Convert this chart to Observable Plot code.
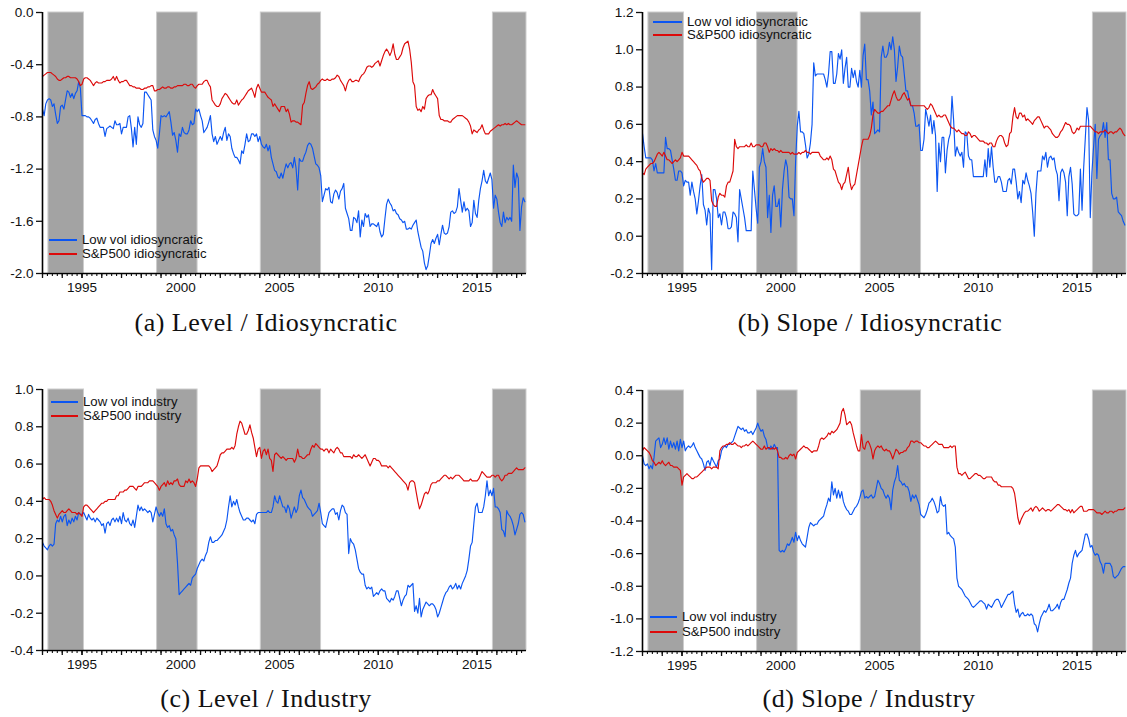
<!DOCTYPE html>
<html><head><meta charset="utf-8">
<script src="https://cdn.jsdelivr.net/npm/d3@7"></script>
<script src="https://cdn.jsdelivr.net/npm/@observablehq/plot@0.6"></script>
<style>
html,body{margin:0;padding:0;background:#fff}
body{width:1127px;height:717px;position:relative;overflow:hidden;font-family:"Liberation Sans",Arial,sans-serif}
.panel{position:absolute}
.cap{position:absolute;font-family:"Liberation Serif","Times New Roman",serif;font-size:26px;letter-spacing:0.5px;white-space:nowrap;transform:translate(-50%,-50%);color:#111}
.leg{position:absolute;font-size:13.2px;line-height:12px;color:#111;white-space:nowrap}
.leg .sw{position:absolute;height:1.6px}
.leg .tx{position:absolute;transform:translateY(-50%);line-height:12px}
</style></head><body>
<script>
// ---------- data (monthly, starting January 1993) ----------
const startYear = 1993;
const shadeBands = [[1993.3, 1995.1], [1998.8, 2000.85], [2004.05, 2007.1], [2015.8, 2017.5]];
const xLabelYears = [1995, 2000, 2005, 2010, 2015];

const lowVolIdioLevel = [
-0.74,-0.79,-0.70,-0.67,-0.66,-0.67,-0.72,-0.70,-0.78,-0.85,
-0.83,-0.72,-0.71,-0.74,-0.67,-0.60,-0.61,-0.65,-0.62,-0.66,
-0.62,-0.60,-0.53,-0.58,-0.79,-0.79,-0.79,-0.80,-0.80,-0.81,
-0.83,-0.85,-0.82,-0.81,-0.85,-0.88,-0.88,-0.88,-0.95,-0.89,
-0.88,-0.87,-0.88,-0.89,-0.83,-0.86,-0.86,-0.85,-0.93,-0.88,
-0.88,-0.88,-0.80,-0.79,-0.89,-1.03,-0.88,-1.01,-0.80,-0.86,
-0.88,-0.85,-0.61,-0.61,-0.63,-0.65,-0.67,-0.90,-0.95,-0.98,
-1.04,-0.93,-0.79,-0.80,-0.79,-0.80,-0.78,-0.76,-0.84,-0.94,
-0.92,-0.98,-1.07,-0.93,-0.95,-0.88,-0.92,-0.93,-0.93,-0.90,
-0.83,-0.86,-0.85,-0.74,-0.76,-0.74,-0.79,-0.83,-0.92,-0.90,
-0.88,-0.84,-0.79,-0.93,-0.99,-0.95,-1.01,-0.98,-0.95,-0.98,
-0.92,-0.88,-0.98,-0.93,-0.95,-1.04,-1.08,-1.11,-1.11,-1.13,
-1.16,-1.06,-1.08,-1.01,-0.93,-0.99,-0.98,-0.93,-0.93,-0.95,
-0.93,-0.99,-0.95,-1.01,-1.03,-1.04,-1.01,-1.06,-1.02,-1.11,
-1.16,-1.21,-1.22,-1.26,-1.27,-1.23,-1.27,-1.21,-1.16,
-1.19,-1.16,-1.15,-1.19,-1.11,-1.19,-1.36,-1.12,-1.14,-1.14,-1.10,
-1.07,-1.02,-1.00,-1.01,-1.04,-1.10,-1.16,-1.17,-1.19,-1.25,
-1.45,-1.40,-1.35,-1.36,-1.34,-1.45,-1.46,-1.39,-1.36,-1.38,
-1.43,-1.37,-1.35,-1.31,-1.50,-1.54,-1.58,-1.67,-1.67,-1.57,
-1.58,-1.61,-1.52,-1.72,-1.59,-1.64,-1.54,-1.57,-1.55,-1.64,
-1.62,-1.62,-1.63,-1.64,-1.61,-1.68,-1.72,-1.70,-1.58,-1.47,
-1.43,-1.46,-1.48,-1.52,-1.51,-1.54,-1.55,-1.58,-1.59,-1.61,
-1.60,-1.66,-1.66,-1.65,-1.66,-1.63,-1.61,-1.59,-1.68,-1.74,
-1.80,-1.83,-1.92,-1.97,-1.94,-1.86,-1.77,-1.74,-1.77,-1.73,
-1.70,-1.78,-1.70,-1.63,-1.69,-1.70,-1.69,-1.64,-1.53,-1.52,
-1.54,-1.53,-1.49,-1.35,-1.44,-1.53,-1.45,-1.52,-1.50,-1.52,
-1.64,-1.61,-1.44,-1.54,-1.57,-1.44,-1.35,-1.29,-1.21,-1.29,
-1.31,-1.27,-1.23,-1.28,-1.50,-1.40,-1.43,-1.53,-1.61,-1.64,
-1.53,-1.61,-1.57,-1.59,-1.57,-1.60,-1.17,-1.34,-1.23,-1.27,
-1.67,-1.49,-1.42,-1.45];

const sp500IdioLevel = [
-0.49,-0.48,-0.47,-0.46,-0.46,-0.46,-0.47,-0.48,-0.49,-0.51,
-0.52,-0.52,-0.51,-0.50,-0.50,-0.49,-0.49,-0.50,-0.50,-0.50,
-0.50,-0.51,-0.53,-0.56,-0.55,-0.51,-0.50,-0.50,-0.51,-0.52,
-0.54,-0.56,-0.54,-0.53,-0.54,-0.54,-0.54,-0.53,-0.53,-0.52,
-0.52,-0.52,-0.51,-0.49,-0.52,-0.49,-0.52,-0.54,-0.53,-0.53,
-0.52,-0.52,-0.54,-0.56,-0.56,-0.57,-0.57,-0.58,-0.58,-0.58,
-0.59,-0.59,-0.58,-0.58,-0.57,-0.57,-0.56,-0.56,-0.60,-0.60,
-0.59,-0.59,-0.58,-0.57,-0.58,-0.58,-0.57,-0.57,-0.58,-0.58,
-0.57,-0.57,-0.56,-0.56,-0.56,-0.56,-0.55,-0.55,-0.56,-0.56,
-0.55,-0.55,-0.57,-0.58,-0.56,-0.55,-0.55,-0.55,-0.53,-0.52,
-0.52,-0.55,-0.57,-0.67,-0.69,-0.71,-0.72,-0.72,-0.70,-0.66,
-0.64,-0.62,-0.63,-0.65,-0.67,-0.69,-0.70,-0.70,-0.67,-0.71,
-0.69,-0.67,-0.66,-0.64,-0.62,-0.60,-0.59,-0.58,-0.61,-0.65,
-0.58,-0.55,-0.58,-0.61,-0.61,-0.61,-0.63,-0.65,-0.66,-0.67,
-0.72,-0.70,-0.72,-0.74,-0.76,-0.72,-0.72,-0.72,-0.76,
-0.74,-0.78,-0.84,-0.83,-0.83,-0.84,-0.84,-0.85,-0.86,-0.71,-0.69,
-0.62,-0.56,-0.53,-0.58,-0.59,-0.58,-0.57,-0.55,-0.54,-0.52,
-0.51,-0.52,-0.52,-0.51,-0.52,-0.52,-0.51,-0.51,-0.50,-0.48,
-0.49,-0.52,-0.54,-0.56,-0.60,-0.55,-0.52,-0.51,-0.53,-0.53,
-0.52,-0.52,-0.53,-0.50,-0.48,-0.47,-0.45,-0.42,-0.41,-0.41,
-0.42,-0.41,-0.39,-0.38,-0.37,-0.41,-0.37,-0.33,-0.30,-0.28,
-0.30,-0.33,-0.30,-0.24,-0.32,-0.36,-0.36,-0.34,-0.32,-0.27,
-0.24,-0.23,-0.22,-0.28,-0.38,-0.53,-0.56,-0.72,-0.75,-0.74,
-0.76,-0.72,-0.74,-0.66,-0.64,-0.63,-0.63,-0.59,-0.62,-0.64,
-0.66,-0.79,-0.82,-0.82,-0.83,-0.83,-0.83,-0.84,-0.84,-0.82,
-0.81,-0.80,-0.79,-0.79,-0.79,-0.79,-0.80,-0.81,-0.82,-0.84,
-0.87,-0.93,-0.90,-0.91,-0.92,-0.90,-0.89,-0.86,-0.90,-0.93,
-0.93,-0.93,-0.91,-0.90,-0.89,-0.88,-0.87,-0.86,-0.87,-0.86,
-0.86,-0.85,-0.86,-0.85,-0.86,-0.86,-0.85,-0.84,-0.83,-0.84,
-0.85,-0.86,-0.86,-0.86];

const lowVolIdioSlope = [
0.55,0.48,0.42,0.42,0.42,0.42,0.41,0.35,0.39,0.34,
0.34,0.34,0.34,0.34,0.53,0.47,0.47,0.46,0.41,0.36,
0.30,0.30,0.35,0.35,0.34,0.27,0.30,0.29,0.29,0.22,
0.29,0.24,0.20,0.12,0.19,0.27,0.33,0.17,0.14,0.06,
0.15,0.12,-0.18,0.25,0.25,0.20,0.10,0.12,0.06,0.13,
0.13,0.10,0.04,0.04,0.05,0.13,0.12,0.10,-0.03,0.25,
0.20,0.15,0.10,0.03,0.03,0.03,0.03,0.35,0.25,0.15,
0.07,0.37,0.40,0.47,0.40,0.37,0.10,0.22,0.02,0.22,
0.27,0.16,0.16,0.20,0.05,0.25,0.35,0.41,0.37,0.21,
0.20,0.20,0.11,0.40,0.59,0.67,0.56,0.56,0.55,0.49,
0.42,0.44,0.50,0.60,0.93,0.86,0.87,0.87,0.87,0.87,
0.87,0.84,0.80,0.87,0.99,0.99,0.82,0.82,0.87,0.98,
0.95,1.00,0.82,0.90,0.96,0.80,0.80,0.90,0.85,0.89,
0.83,0.80,0.89,0.80,0.97,1.03,0.84,0.84,0.78,0.65,
0.72,0.55,0.56,0.57,
0.56,0.96,1.02,0.96,0.96,0.98,
1.04,1.00,1.07,1.00,0.83,0.91,1.02,0.97,0.96,0.87,
0.78,0.78,0.73,0.70,0.70,0.66,0.59,0.59,0.60,0.46,
0.46,0.52,0.68,0.64,0.59,0.65,0.55,0.62,0.54,0.24,
0.50,0.40,0.53,0.53,0.34,0.46,0.52,0.55,0.75,0.62,
0.43,0.48,0.45,0.43,0.45,0.37,0.56,0.55,0.43,0.41,
0.41,0.32,0.32,0.32,0.32,0.32,0.32,0.32,0.41,0.32,
0.47,0.37,0.48,0.37,0.29,0.29,0.32,0.32,0.29,0.24,
0.24,0.24,0.30,0.31,0.28,0.36,0.36,0.29,0.20,0.24,
0.18,0.30,0.28,0.34,0.30,0.27,0.23,0.13,0.00,0.23,
0.35,0.35,0.35,0.43,0.41,0.45,0.37,0.42,0.43,0.41,
0.42,0.36,0.33,0.19,0.34,0.36,0.34,0.29,0.11,0.32,
0.37,0.28,0.12,0.11,0.11,0.12,0.36,0.14,0.37,0.53,
0.69,0.62,0.10,0.34,0.48,0.60,0.31,0.52,0.54,0.55,
0.61,0.53,0.61,0.41,0.41,0.23,0.20,0.20,0.21,0.13,
0.12,0.11,0.08,0.06];

const sp500IdioSlope = [
0.34,0.33,0.36,0.37,0.38,0.39,0.39,0.40,0.42,0.44,
0.45,0.44,0.43,0.45,0.43,0.41,0.41,0.40,0.39,0.40,
0.41,0.40,0.41,0.42,0.45,0.43,0.43,0.43,0.43,0.42,
0.41,0.40,0.39,0.38,0.36,0.35,0.31,0.29,0.30,0.31,
0.31,0.30,0.19,0.17,0.16,0.16,0.21,0.23,0.22,0.22,
0.21,0.27,0.29,0.29,0.32,0.35,0.52,0.48,0.47,0.48,
0.48,0.48,0.48,0.49,0.48,0.48,0.50,0.48,0.48,0.49,
0.49,0.49,0.48,0.48,0.50,0.50,0.48,0.45,0.47,0.46,
0.47,0.46,0.46,0.45,0.46,0.45,0.45,0.45,0.45,0.45,
0.44,0.45,0.44,0.44,0.44,0.45,0.44,0.45,0.45,0.46,
0.45,0.45,0.44,0.45,0.45,0.45,0.45,0.45,0.43,0.42,
0.41,0.41,0.42,0.41,0.43,0.41,0.36,0.35,0.32,0.29,
0.28,0.25,0.28,0.29,0.33,0.37,0.29,0.25,0.27,0.28,
0.33,0.38,0.43,0.48,0.52,0.52,0.52,0.52,0.54,0.58,
0.65,0.68,0.67,0.66,
0.66,0.67,0.67,0.68,0.69,0.70,
0.70,0.73,0.76,0.78,0.75,0.73,0.73,0.74,0.76,0.77,
0.75,0.73,0.74,0.70,0.70,0.70,0.70,0.70,0.70,0.70,
0.70,0.70,0.69,0.68,0.69,0.71,0.70,0.68,0.66,0.64,
0.65,0.64,0.64,0.65,0.65,0.63,0.61,0.59,0.58,0.58,
0.57,0.56,0.57,0.56,0.55,0.55,0.54,0.54,0.56,0.55,
0.53,0.54,0.54,0.53,0.52,0.51,0.51,0.51,0.50,0.50,
0.49,0.50,0.50,0.48,0.48,0.51,0.53,0.54,0.54,0.53,
0.50,0.48,0.49,0.55,0.56,0.64,0.69,0.64,0.63,0.66,
0.66,0.64,0.65,0.62,0.63,0.62,0.61,0.60,0.62,0.63,
0.64,0.64,0.62,0.60,0.58,0.59,0.59,0.58,0.57,0.55,
0.54,0.53,0.53,0.54,0.56,0.57,0.59,0.61,0.60,0.60,
0.59,0.56,0.55,0.56,0.58,0.57,0.59,0.59,0.59,0.59,
0.59,0.59,0.59,0.58,0.57,0.56,0.56,0.55,0.56,0.56,
0.56,0.57,0.56,0.55,0.56,0.56,0.55,0.56,0.56,0.57,
0.58,0.57,0.55,0.54];

const lowVolIndLevel = [
0.18,0.16,0.15,0.14,0.16,0.17,0.16,0.17,0.28,0.30,
0.29,0.32,0.29,0.32,0.33,0.27,0.30,0.28,0.31,0.29,
0.32,0.30,0.34,0.33,0.33,0.34,0.32,0.30,0.33,0.31,
0.30,0.31,0.29,0.31,0.30,0.29,0.27,0.28,0.23,0.28,
0.29,0.27,0.30,0.31,0.29,0.31,0.29,0.32,0.28,0.34,
0.30,0.29,0.31,0.28,0.27,0.30,0.26,0.32,0.38,0.35,
0.37,0.35,0.36,0.35,0.34,0.35,0.34,0.29,0.33,0.37,
0.34,0.32,0.34,0.32,0.36,0.28,0.26,0.27,0.24,0.25,
0.22,0.20,0.07,-0.10,-0.09,-0.08,-0.07,-0.06,-0.05,-0.04,
-0.05,-0.01,0.00,0.01,0.04,0.06,0.08,0.09,0.08,0.11,
0.13,0.18,0.21,0.18,0.18,0.19,0.19,0.20,0.21,0.22,
0.24,0.26,0.30,0.37,0.43,0.37,0.40,0.38,0.41,0.37,
0.34,0.32,0.30,0.30,0.31,0.31,0.30,0.29,0.30,0.28,
0.33,0.34,0.34,0.34,0.34,0.34,0.34,0.35,0.34,0.34,
0.37,0.43,0.40,0.39,0.43,0.40,0.37,0.37,0.34,
0.38,0.36,0.31,0.34,0.37,0.34,0.36,0.43,0.46,0.42,0.41,
0.39,0.37,0.36,0.35,0.32,0.33,0.34,0.35,0.39,0.34,
0.28,0.27,0.26,0.30,0.34,0.35,0.36,0.36,0.33,0.34,
0.30,0.35,0.38,0.37,0.34,0.33,0.12,0.20,0.18,0.17,
0.14,0.09,0.04,0.02,0.01,0.01,-0.05,-0.07,-0.06,-0.07,
-0.06,-0.11,-0.10,-0.09,-0.10,-0.08,-0.07,-0.08,-0.08,-0.12,
-0.13,-0.14,-0.12,-0.13,-0.11,-0.08,-0.08,-0.12,-0.16,-0.13,
-0.11,-0.10,-0.05,-0.06,-0.05,-0.04,-0.19,-0.16,-0.20,-0.12,
-0.22,-0.18,-0.16,-0.14,-0.15,-0.16,-0.15,-0.15,-0.16,-0.18,
-0.22,-0.20,-0.17,-0.14,-0.11,-0.09,-0.08,-0.06,-0.05,-0.07,
-0.06,-0.04,-0.07,-0.05,-0.07,-0.04,-0.02,0.00,0.03,0.09,
0.16,0.18,0.28,0.37,0.39,0.34,0.34,0.34,0.37,0.43,
0.51,0.43,0.46,0.43,0.47,0.37,0.37,0.36,0.34,0.25,
0.24,0.21,0.35,0.33,0.32,0.30,0.27,0.22,0.25,0.28,
0.33,0.34,0.33,0.29];

const sp500IndLevel = [
0.41,0.42,0.41,0.41,0.41,0.40,0.38,0.35,0.33,0.31,
0.33,0.34,0.35,0.34,0.34,0.35,0.36,0.35,0.34,0.34,
0.34,0.33,0.34,0.33,0.32,0.37,0.38,0.38,0.37,0.36,
0.35,0.34,0.35,0.36,0.37,0.38,0.39,0.39,0.40,0.40,
0.41,0.41,0.41,0.41,0.41,0.43,0.43,0.45,0.45,0.45,
0.46,0.46,0.47,0.48,0.48,0.48,0.47,0.46,0.48,0.48,
0.48,0.49,0.50,0.50,0.50,0.51,0.51,0.51,0.50,0.49,
0.48,0.46,0.48,0.49,0.50,0.48,0.51,0.49,0.50,0.49,
0.51,0.51,0.52,0.49,0.48,0.48,0.48,0.51,0.50,0.52,
0.50,0.51,0.50,0.48,0.52,0.58,0.59,0.59,0.59,0.59,
0.59,0.59,0.58,0.56,0.57,0.58,0.59,0.62,0.65,0.66,
0.66,0.67,0.68,0.68,0.68,0.69,0.68,0.70,0.76,0.80,
0.83,0.82,0.79,0.76,0.76,0.78,0.81,0.77,0.74,0.69,
0.64,0.68,0.69,0.63,0.67,0.68,0.65,0.68,0.63,0.62,
0.56,0.65,0.66,0.65,0.64,0.63,0.64,0.63,0.62,
0.63,0.63,0.63,0.63,0.61,0.63,0.68,0.64,0.64,0.63,0.63,
0.64,0.65,0.65,0.68,0.70,0.69,0.71,0.70,0.69,0.68,
0.68,0.67,0.68,0.68,0.66,0.68,0.67,0.66,0.68,0.69,
0.68,0.66,0.66,0.64,0.64,0.64,0.64,0.64,0.63,0.65,
0.64,0.64,0.65,0.64,0.63,0.64,0.65,0.63,0.61,0.59,
0.61,0.63,0.63,0.62,0.62,0.61,0.59,0.59,0.59,0.59,
0.58,0.59,0.58,0.57,0.56,0.55,0.54,0.53,0.52,0.51,
0.50,0.49,0.46,0.50,0.51,0.51,0.50,0.45,0.40,0.36,
0.38,0.41,0.44,0.45,0.44,0.46,0.49,0.50,0.50,0.50,
0.51,0.51,0.52,0.53,0.54,0.54,0.53,0.52,0.53,0.52,
0.53,0.54,0.54,0.54,0.53,0.52,0.51,0.51,0.51,0.51,
0.52,0.51,0.51,0.51,0.51,0.52,0.54,0.56,0.55,0.54,
0.53,0.53,0.53,0.54,0.54,0.53,0.54,0.54,0.52,0.51,
0.52,0.54,0.54,0.55,0.55,0.55,0.56,0.57,0.58,0.57,
0.57,0.57,0.57,0.58];

const lowVolIndSlope = [
0.00,-0.05,-0.06,-0.05,-0.08,-0.06,-0.08,-0.01,0.09,0.10,
0.11,0.05,0.07,0.11,0.07,0.11,0.04,0.09,0.05,0.08,
0.04,0.09,0.03,0.10,0.05,0.09,0.03,0.05,0.06,0.05,
0.06,0.08,0.05,0.03,0.01,-0.01,-0.02,-0.05,-0.09,-0.04,
-0.03,-0.06,-0.01,-0.03,-0.05,-0.07,-0.03,-0.02,0.03,0.05,
0.06,0.05,0.07,0.07,0.08,0.09,0.12,0.15,0.18,0.17,
0.16,0.17,0.15,0.16,0.14,0.14,0.15,0.13,0.15,0.17,
0.20,0.17,0.15,0.16,0.12,0.10,0.05,0.04,0.06,0.04,
0.07,0.05,0.05,-0.58,-0.59,-0.58,-0.59,-0.57,-0.54,-0.55,
-0.53,-0.50,-0.53,-0.47,-0.52,-0.49,-0.52,-0.54,-0.55,-0.56,
-0.50,-0.44,-0.41,-0.42,-0.43,-0.42,-0.42,-0.40,-0.39,-0.38,
-0.37,-0.33,-0.30,-0.26,-0.28,-0.16,-0.24,-0.20,-0.26,-0.21,
-0.26,-0.22,-0.28,-0.31,-0.33,-0.34,-0.36,-0.36,-0.34,-0.32,
-0.31,-0.29,-0.26,-0.22,-0.21,-0.26,-0.25,-0.26,-0.25,-0.24,
-0.26,-0.25,-0.20,-0.15,
-0.17,-0.20,-0.21,-0.24,-0.26,-0.24,
-0.26,-0.33,-0.21,-0.16,-0.13,-0.06,-0.15,-0.16,-0.18,-0.17,
-0.19,-0.19,-0.22,-0.28,-0.24,-0.26,-0.24,-0.27,-0.30,-0.36,
-0.37,-0.38,-0.36,-0.33,-0.29,-0.28,-0.26,-0.28,-0.31,-0.35,
-0.34,-0.25,-0.30,-0.31,-0.30,-0.48,-0.47,-0.49,-0.50,-0.51,
-0.56,-0.75,-0.80,-0.81,-0.82,-0.84,-0.86,-0.87,-0.88,-0.90,
-0.92,-0.93,-0.92,-0.91,-0.90,-0.89,-0.89,-0.90,-0.91,-0.94,
-0.91,-0.92,-0.93,-0.91,-0.89,-0.88,-0.88,-0.90,-0.93,-0.91,
-0.89,-0.87,-0.85,-0.85,-0.84,-0.83,-0.91,-0.96,-0.94,-0.99,
-0.97,-0.96,-0.98,-0.98,-0.97,-0.98,-0.97,-0.98,-1.03,-1.04,
-1.08,-1.03,-0.99,-0.97,-0.95,-0.96,-0.94,-0.91,-0.95,-0.95,
-0.94,-0.93,-0.91,-0.94,-0.90,-0.88,-0.88,-0.85,-0.82,-0.78,
-0.75,-0.66,-0.61,-0.58,-0.62,-0.60,-0.59,-0.58,-0.53,-0.48,
-0.48,-0.51,-0.56,-0.55,-0.59,-0.61,-0.60,-0.61,-0.65,-0.67,
-0.72,-0.66,-0.66,-0.66,-0.66,-0.68,-0.74,-0.75,-0.74,-0.73,
-0.71,-0.69,-0.68,-0.68];

const sp500IndSlope = [
0.03,0.05,0.04,0.03,0.02,0.00,-0.03,-0.04,-0.06,-0.05,
-0.04,-0.05,-0.03,-0.05,-0.06,-0.05,-0.04,-0.06,-0.06,-0.07,
-0.07,-0.07,-0.08,-0.09,-0.18,-0.13,-0.12,-0.11,-0.12,-0.13,
-0.14,-0.14,-0.13,-0.13,-0.12,-0.11,-0.10,-0.09,-0.08,-0.07,
-0.07,-0.07,-0.08,-0.07,-0.07,-0.07,-0.08,0.03,0.05,0.06,
0.06,0.07,0.07,0.08,0.07,0.07,0.08,0.07,0.06,0.06,
0.05,0.06,0.06,0.07,0.06,0.07,0.08,0.09,0.08,0.07,
0.06,0.05,0.04,0.04,0.06,0.04,0.05,0.05,0.04,0.05,
0.04,0.05,0.03,-0.01,-0.01,-0.02,-0.02,-0.01,-0.02,0.00,
0.01,0.00,0.01,-0.02,0.02,0.03,0.04,0.05,0.06,0.05,
0.05,0.04,0.03,0.02,0.03,0.03,0.03,0.06,0.10,0.11,
0.10,0.11,0.12,0.14,0.13,0.15,0.14,0.15,0.16,0.18,
0.20,0.27,0.29,0.25,0.19,0.20,0.21,0.19,0.14,0.10,
0.06,0.03,0.03,0.13,0.05,0.04,0.08,0.09,0.07,0.04,
-0.02,0.03,0.05,0.06,
0.05,0.06,0.04,0.03,0.04,0.03,
0.03,0.01,-0.02,0.01,0.04,0.03,0.01,0.02,0.02,0.03,
0.03,0.05,0.06,0.09,0.09,0.08,0.09,0.09,0.08,0.08,
0.07,0.06,0.06,0.05,0.05,0.06,0.07,0.08,0.09,0.08,
0.07,0.07,0.07,0.05,0.05,0.05,0.05,0.06,0.05,0.06,
0.06,-0.07,-0.11,-0.11,-0.12,-0.11,-0.10,-0.12,-0.14,-0.14,
-0.13,-0.12,-0.11,-0.11,-0.12,-0.12,-0.13,-0.14,-0.14,-0.13,
-0.13,-0.13,-0.13,-0.15,-0.16,-0.16,-0.18,-0.18,-0.19,-0.19,
-0.19,-0.19,-0.19,-0.19,-0.19,-0.20,-0.23,-0.30,-0.38,-0.42,
-0.39,-0.37,-0.35,-0.34,-0.34,-0.33,-0.32,-0.34,-0.32,-0.31,
-0.32,-0.34,-0.33,-0.32,-0.33,-0.34,-0.33,-0.33,-0.34,-0.33,
-0.32,-0.31,-0.30,-0.30,-0.31,-0.32,-0.33,-0.33,-0.34,-0.33,
-0.35,-0.33,-0.35,-0.34,-0.33,-0.32,-0.31,-0.31,-0.34,-0.34,
-0.34,-0.33,-0.33,-0.33,-0.33,-0.34,-0.35,-0.35,-0.35,-0.36,
-0.35,-0.34,-0.35,-0.35,-0.34,-0.34,-0.35,-0.34,-0.34,-0.33,
-0.33,-0.33,-0.33,-0.32];

// tick values for each panel
const yTicksA = [0.0, -0.4, -0.8, -1.2, -1.6, -2.0];
const yTicksB = [1.2, 1.0, 0.8, 0.6, 0.4, 0.2, 0.0, -0.2];
const yTicksC = [1.0, 0.8, 0.6, 0.4, 0.2, 0.0, -0.2, -0.4];
const yTicksD = [0.4, 0.2, 0.0, -0.2, -0.4, -0.6, -0.8, -1.0, -1.2];

// ---------- drawing ----------
const BLUE = "#0b55f2", RED = "#dc0a0a";
const xDomain = [1993, 2017.5];
const quarterTicks = d3.range(1993, 2017.5, 0.25);
const yearTicks = d3.range(1993, 2018, 1);
const toRows = arr => arr.map((v, i) => ({t: startYear + i / 12, v}));

function panel(cfg) {
  const plotH = 261, plotW = 484, mL = 42;
  const yLo = d3.min(cfg.yDomain), yHi = d3.max(cfg.yDomain);
  const chart = Plot.plot({
    width: cfg.width, height: cfg.height,
    marginLeft: mL, marginRight: cfg.width - mL - plotW,
    marginTop: cfg.mt, marginBottom: cfg.height - cfg.mt - plotH,
    x: {type: "linear", domain: xDomain, label: null},
    y: {type: "linear", domain: [yLo, yHi], label: null},
    style: {fontFamily: '"Liberation Sans", Arial, sans-serif', fontSize: "13.5px", color: "#111", background: "transparent", overflow: "visible"},
    marks: [
      Plot.rect(shadeBands, {x1: d => d[0], x2: d => d[1], y1: () => yLo, y2: () => yHi, fill: "#a3a3a3", stroke: "#cdcdcd", strokeWidth: 1}),
      Plot.line(toRows(cfg.low), {x: "t", y: "v", stroke: BLUE, strokeWidth: 1.15}),
      Plot.line(toRows(cfg.sp), {x: "t", y: "v", stroke: RED, strokeWidth: 1.15}),
      Plot.axisX(quarterTicks, {tickSize: 3, tickFormat: () => "", strokeWidth: 1.1, label: null}),
      Plot.axisX(yearTicks, {tickSize: 5, tickFormat: () => "", strokeWidth: 1.3, label: null}),
      Plot.axisX(xLabelYears, {tickSize: 5, tickPadding: 4, tickFormat: d => String(d), strokeWidth: 1.3, label: null}),
      Plot.axisY(cfg.yTicks, {tickSize: 6, tickPadding: 3, tickFormat: d => d.toFixed(1), strokeWidth: 1.3, label: null}),
      Plot.ruleX([xDomain[0]], {stroke: "#000", strokeWidth: 1.6}),
      Plot.ruleY([yLo], {stroke: "#000", strokeWidth: 1.6})
    ]
  });
  const wrap = document.createElement("div");
  wrap.className = "panel";
  wrap.style.left = cfg.left + "px";
  wrap.style.top = cfg.top + "px";
  wrap.appendChild(chart);
  document.body.appendChild(wrap);

  // legend
  cfg.legend.forEach(item => {
    const el = document.createElement("div");
    el.className = "leg";
    el.style.left = item.x + "px";
    el.style.top = item.y + "px";
    el.innerHTML = `<div class="sw" style="left:0;top:-0.8px;width:${item.w}px;background:${item.c}"></div>` +
                   `<div class="tx" style="left:${item.w + 5}px;top:0">${item.label}</div>`;
    document.body.appendChild(el);
  });

  const cap = document.createElement("div");
  cap.className = "cap";
  cap.style.left = cfg.capX + "px";
  cap.style.top = cfg.capY + "px";
  cap.textContent = cfg.caption;
  document.body.appendChild(cap);
}

panel({left: 0, top: 0, width: 560, height: 300, mt: 12,
  low: lowVolIdioLevel, sp: sp500IdioLevel, yDomain: [-2.0, 0.0], yTicks: yTicksA,
  legend: [{x: 49, y: 240, w: 28, c: BLUE, label: "Low vol idiosyncratic"},
           {x: 49, y: 254, w: 28, c: RED, label: "S&amp;P500 idiosyncratic"}],
  caption: "(a) Level / Idiosyncratic", capX: 266, capY: 323});

panel({left: 600, top: 0, width: 527, height: 300, mt: 12,
  low: lowVolIdioSlope, sp: sp500IdioSlope, yDomain: [-0.2, 1.2], yTicks: yTicksB,
  legend: [{x: 653, y: 22, w: 29, c: BLUE, label: "Low vol idiosyncratic"},
           {x: 653, y: 35, w: 29, c: RED, label: "S&amp;P500 idiosyncratic"}],
  caption: "(b) Slope / Idiosyncratic", capX: 870, capY: 323});

panel({left: 0, top: 377, width: 560, height: 300, mt: 12,
  low: lowVolIndLevel, sp: sp500IndLevel, yDomain: [-0.4, 1.0], yTicks: yTicksC,
  legend: [{x: 51, y: 402, w: 27, c: BLUE, label: "Low vol industry"},
           {x: 51, y: 416, w: 27, c: RED, label: "S&amp;P500 industry"}],
  caption: "(c) Level / Industry", capX: 266, capY: 699});

panel({left: 600, top: 377, width: 527, height: 300, mt: 13,
  low: lowVolIndSlope, sp: sp500IndSlope, yDomain: [-1.2, 0.4], yTicks: yTicksD,
  legend: [{x: 650, y: 617, w: 27, c: BLUE, label: "Low vol industry"},
           {x: 650, y: 632, w: 27, c: RED, label: "S&amp;P500 industry"}],
  caption: "(d) Slope / Industry", capX: 869, capY: 699});
</script>
</body></html>
